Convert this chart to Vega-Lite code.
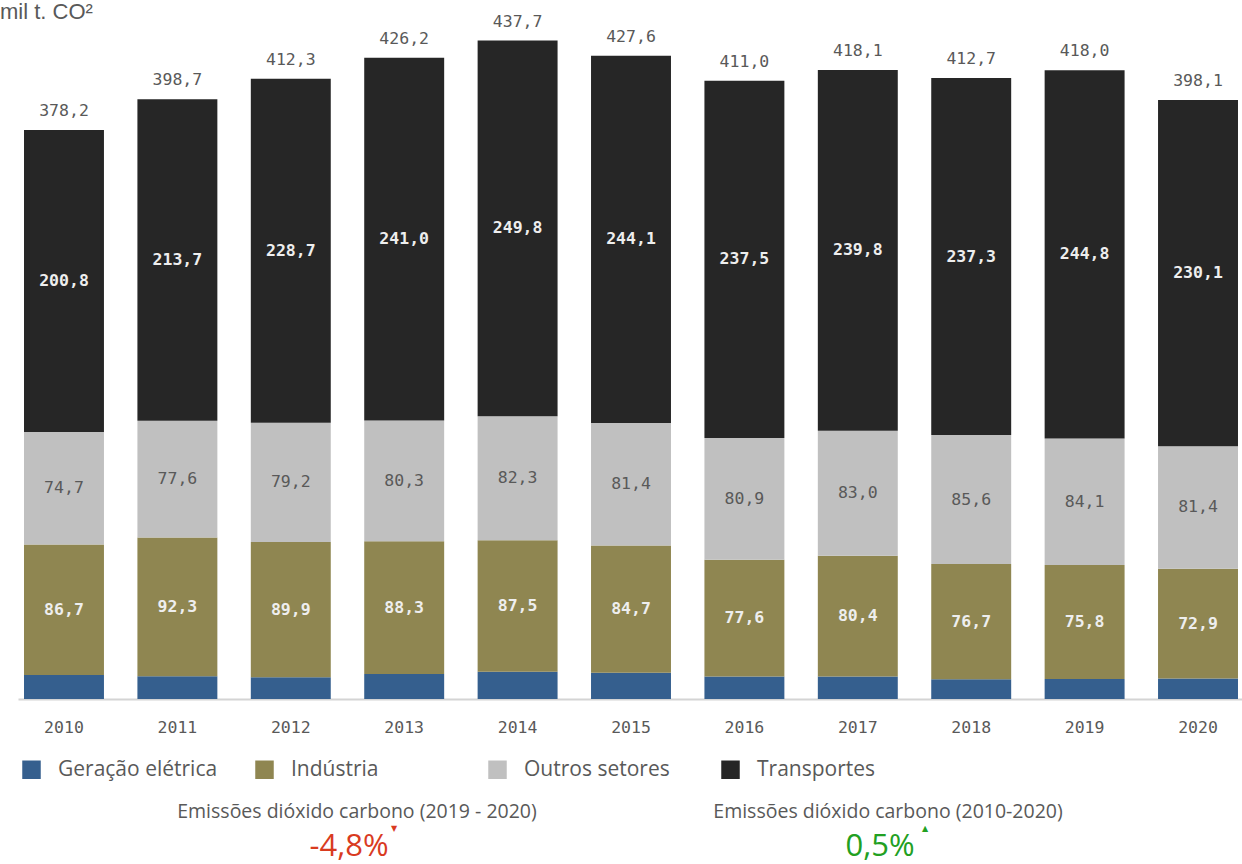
{
  "$schema": "https://vega.github.io/schema/vega-lite/v6.json",
  "background": "white",
  "padding": {"left": 0, "top": 0, "right": 0, "bottom": 0},
  "config": {
    "locale": {"number": {"decimal": ",", "thousands": ".", "grouping": [3], "currency": ["", ""], "minus": "-"}},
    "view": {"stroke": null},
    "font": "Open Sans"
  },
  "datasets": {
    "emissions": [
      {"year": "2010", "sector": "Geração elétrica", "value": 16.0},
      {"year": "2010", "sector": "Indústria", "value": 86.7},
      {"year": "2010", "sector": "Outros setores", "value": 74.7},
      {"year": "2010", "sector": "Transportes", "value": 200.8},
      {"year": "2011", "sector": "Geração elétrica", "value": 15.1},
      {"year": "2011", "sector": "Indústria", "value": 92.3},
      {"year": "2011", "sector": "Outros setores", "value": 77.6},
      {"year": "2011", "sector": "Transportes", "value": 213.7},
      {"year": "2012", "sector": "Geração elétrica", "value": 14.5},
      {"year": "2012", "sector": "Indústria", "value": 89.9},
      {"year": "2012", "sector": "Outros setores", "value": 79.2},
      {"year": "2012", "sector": "Transportes", "value": 228.7},
      {"year": "2013", "sector": "Geração elétrica", "value": 16.6},
      {"year": "2013", "sector": "Indústria", "value": 88.3},
      {"year": "2013", "sector": "Outros setores", "value": 80.3},
      {"year": "2013", "sector": "Transportes", "value": 241.0},
      {"year": "2014", "sector": "Geração elétrica", "value": 18.1},
      {"year": "2014", "sector": "Indústria", "value": 87.5},
      {"year": "2014", "sector": "Outros setores", "value": 82.3},
      {"year": "2014", "sector": "Transportes", "value": 249.8},
      {"year": "2015", "sector": "Geração elétrica", "value": 17.4},
      {"year": "2015", "sector": "Indústria", "value": 84.7},
      {"year": "2015", "sector": "Outros setores", "value": 81.4},
      {"year": "2015", "sector": "Transportes", "value": 244.1},
      {"year": "2016", "sector": "Geração elétrica", "value": 15.0},
      {"year": "2016", "sector": "Indústria", "value": 77.6},
      {"year": "2016", "sector": "Outros setores", "value": 80.9},
      {"year": "2016", "sector": "Transportes", "value": 237.5},
      {"year": "2017", "sector": "Geração elétrica", "value": 14.9},
      {"year": "2017", "sector": "Indústria", "value": 80.4},
      {"year": "2017", "sector": "Outros setores", "value": 83.0},
      {"year": "2017", "sector": "Transportes", "value": 239.8},
      {"year": "2018", "sector": "Geração elétrica", "value": 13.1},
      {"year": "2018", "sector": "Indústria", "value": 76.7},
      {"year": "2018", "sector": "Outros setores", "value": 85.6},
      {"year": "2018", "sector": "Transportes", "value": 237.3},
      {"year": "2019", "sector": "Geração elétrica", "value": 13.3},
      {"year": "2019", "sector": "Indústria", "value": 75.8},
      {"year": "2019", "sector": "Outros setores", "value": 84.1},
      {"year": "2019", "sector": "Transportes", "value": 244.8},
      {"year": "2020", "sector": "Geração elétrica", "value": 13.7},
      {"year": "2020", "sector": "Indústria", "value": 72.9},
      {"year": "2020", "sector": "Outros setores", "value": 81.4},
      {"year": "2020", "sector": "Transportes", "value": 230.1}
    ],
    "kpis": [
      {"kpi": "2019-2020", "title": "Emissões dióxido carbono (2019 - 2020)", "change": -0.048},
      {"kpi": "2010-2020", "title": "Emissões dióxido carbono (2010-2020)", "change": 0.005}
    ]
  },
  "spacing": 58,
  "vconcat": [
    {
      "title": {"text": "mil t. CO²", "anchor": "start", "frame": "group", "dx": -18, "offset": -10, "fontSize": 22, "font": "Liberation Sans", "fontWeight": "normal", "color": "#595959", "baseline": "top"},
      "width": 1226,
      "height": 677,
      "data": {"name": "emissions"},
      "transform": [
        {"stack": "value", "groupby": ["year"], "sort": [{"field": "sector", "order": "ascending"}], "as": ["v0", "v1"]},
        {"calculate": "(datum.v0 + datum.v1) / 2", "as": "mid"}
      ],
      "encoding": {
        "x": {
          "field": "year", "type": "ordinal",
          "scale": {"paddingInner": 0.295, "paddingOuter": 0.053},
          "axis": {"title": null, "labelAngle": 0, "ticks": false, "labelFont": "DejaVu Sans Mono", "labelFontSize": 16.5, "labelColor": "#595959", "labelPadding": 20, "domainColor": "#d4d4d4", "domainWidth": 2, "grid": false}
        }
      },
      "layer": [
        {
          "mark": {"type": "bar"},
          "encoding": {
            "y": {"field": "v1", "type": "quantitative", "scale": {"domain": [0, 450], "nice": false}, "axis": null},
            "y2": {"field": "v0"},
            "color": {
              "field": "sector", "type": "nominal",
              "scale": {"domain": ["Geração elétrica", "Indústria", "Outros setores", "Transportes"], "range": ["#355f8e", "#8f8651", "#c0c0c0", "#262626"]},
              "legend": {"title": null, "orient": "none", "legendX": 3, "legendY": 737, "direction": "horizontal", "columns": 4, "gridAlign": "all", "columnPadding": 36, "symbolType": "square", "symbolSize": 342, "symbolStrokeWidth": 0, "symbolOpacity": 1, "labelFont": "Open Sans", "labelFontSize": 21, "labelColor": "#595959", "labelOffset": 16, "labelLimit": 400}
            }
          }
        },
        {
          "transform": [{"filter": {"field": "sector", "oneOf": ["Indústria", "Transportes"]}}],
          "mark": {"type": "text", "font": "DejaVu Sans Mono", "fontSize": 16.5, "fontWeight": "bold", "color": "#eeeeee", "baseline": "middle"},
          "encoding": {
            "y": {"field": "mid", "type": "quantitative"},
            "text": {"field": "value", "type": "quantitative", "format": ".1f"}
          }
        },
        {
          "transform": [{"filter": {"field": "sector", "equal": "Outros setores"}}],
          "mark": {"type": "text", "font": "DejaVu Sans Mono", "fontSize": 16.5, "color": "#595959", "baseline": "middle"},
          "encoding": {
            "y": {"field": "mid", "type": "quantitative"},
            "text": {"field": "value", "type": "quantitative", "format": ".1f"}
          }
        },
        {
          "transform": [{"aggregate": [{"op": "sum", "field": "value", "as": "total"}], "groupby": ["year"]}],
          "mark": {"type": "text", "font": "DejaVu Sans Mono", "fontSize": 16.5, "color": "#595959", "baseline": "middle", "dy": -19},
          "encoding": {
            "y": {"field": "total", "type": "quantitative"},
            "text": {"field": "total", "type": "quantitative", "format": ".1f"}
          }
        }
      ]
    },
    {
      "width": 1209,
      "height": 70,
      "data": {"name": "kpis"},
      "encoding": {
        "x": {"field": "kpi", "type": "nominal", "scale": {"type": "point", "padding": 0.6384, "domain": ["2019-2020", "2010-2020"]}, "axis": null}
      },
      "layer": [
        {
          "mark": {"type": "text", "font": "Open Sans", "fontSize": 19.5, "color": "#595959", "baseline": "middle", "dy": -17},
          "encoding": {"text": {"field": "title", "type": "nominal"}}
        },
        {
          "mark": {"type": "text", "font": "Open Sans", "fontSize": 31, "baseline": "middle", "dy": 18, "dx": -8},
          "encoding": {
            "text": {"field": "change", "type": "quantitative", "format": ".1%"},
            "color": {"condition": {"test": "datum.change < 0", "value": "#d93b1f"}, "value": "#22a022"}
          }
        },
        {
          "mark": {"type": "text", "font": "DejaVu Sans", "fontSize": 8, "baseline": "middle", "dy": 0, "dx": 37},
          "encoding": {
            "text": {"condition": {"test": "datum.change < 0", "value": "▼"}, "value": "▲"},
            "color": {"condition": {"test": "datum.change < 0", "value": "#d93b1f"}, "value": "#22a022"}
          }
        }
      ]
    }
  ]
}
